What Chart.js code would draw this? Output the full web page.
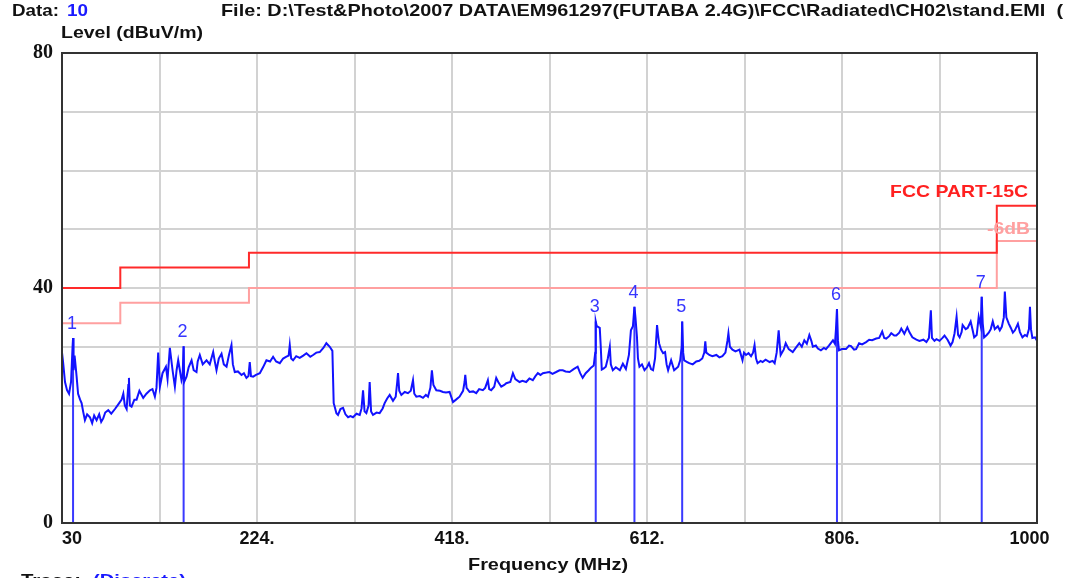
<!DOCTYPE html>
<html>
<head>
<meta charset="utf-8">
<script src="https://cdn.jsdelivr.net/npm/chart.js@4"></script>
<style>
html, body { margin: 0; padding: 0; background: #fff; }
</style>
</head>
<body>
<canvas id="myChart" width="1072" height="578"></canvas>
<script>
// measured trace (MHz / dBuV/m)
const traceFreq = [30, 31, 33, 35, 37, 39, 40.5, 41, 41.5, 42.5, 43, 44.5, 46, 48, 49.5, 51, 52.8, 55, 57.8, 60,
  62, 64.4, 67, 69, 71, 73, 76, 79, 82.7, 86, 89.3, 91, 92.5, 94.3, 96, 96.6, 97.5, 99.2, 102, 104.2,
  107, 110.8, 114, 117.5, 120, 122.4, 124, 125.7, 127.4, 130, 133.4, 135, 137.3, 140, 142.3, 144, 145.6, 148.9, 150, 151,
  151.5, 153.9, 156, 158.9, 161, 163.8, 165, 167.1, 170, 173.8, 177, 180.4, 182, 183.7, 186, 188.7, 191, 193.7, 196, 198.6,
  200, 201.9, 205, 208.6, 211, 213.5, 215.5, 216.8, 218, 220.2, 223, 226.8, 230, 233.4, 237, 240, 243, 246.7, 250, 253.3,
  255.5, 256.6, 258, 259.9, 263, 266.5, 270, 273.2, 277, 279.8, 283, 286.4, 290, 293, 296.4, 299, 300.3, 301.3, 303, 304.6,
  307, 309.6, 312, 314.6, 317, 319.5, 323, 326.2, 328, 329.5, 331, 332.8, 335, 336.1, 337.5, 339.4, 343, 346, 349, 351,
  353.5, 356, 359.3, 362, 363.5, 364.3, 365.5, 367.6, 371, 374.2, 377, 379.2, 380.5, 382.5, 386, 389.1, 392, 394.1, 396.5, 398,
  399.5, 402.4, 406, 409, 412, 415.6, 419, 422, 425.5, 429, 430.5, 431.2, 432.5, 435.5, 439, 442.1, 445, 448.7, 451, 453.7,
  455, 457, 460, 462, 464, 467, 470, 472, 476, 478.6, 481, 485.2, 488, 491.8, 495, 498.4, 501, 503.4, 506, 508.4,
  512, 515, 518, 521.6, 525, 528.2, 531, 535, 539, 543, 545.5, 548, 551, 554, 556, 559, 560.5, 561, 562, 565,
  566, 567, 569, 571, 573, 575, 576, 578, 581, 585, 588, 591, 594, 596, 598, 599.5, 600.5, 602, 603, 604.5,
  607, 609.5, 612, 614, 616, 618, 620, 622, 623, 624, 626, 628, 630, 631.5, 633, 636, 639, 641, 643, 645,
  646.5, 647, 648, 649, 652, 654, 657.5, 661, 664, 667, 669, 670, 671, 674, 677, 681, 684, 687, 690, 692,
  693, 694.5, 697, 700, 704, 707, 708.5, 710.5, 713, 715.5, 717.5, 719, 720.5, 722, 725, 727, 730, 734, 737, 739,
  741, 743, 744, 745, 748, 750, 753, 757, 760, 763.5, 766, 768.5, 771, 773.5, 775.5, 777, 780, 782, 785, 788,
  790, 793, 797, 799, 800, 801, 802, 803, 806, 810, 813, 815, 818, 820, 823, 826, 830, 833, 836, 840,
  843, 846, 848, 850, 853, 855, 858, 860, 863, 865, 868, 871, 873, 876, 880, 883, 887, 890, 892.5, 894.4,
  895.5, 898, 900, 903, 906, 908, 911, 914, 916, 918, 920, 921.5, 923, 925, 926, 929, 931, 934, 936, 937.5,
  940, 942, 944, 945, 946, 947.4, 950, 952, 954, 956, 958, 961, 963, 965, 967, 968, 969.5, 972, 974, 976,
  978, 981, 983, 985.5, 988, 990, 992, 993, 994, 995.4, 998, 1000];
const traceLevel = [29, 27.5, 24, 22.6, 22, 24, 30, 31.5, 26, 28.5, 27.7, 25, 22, 21, 20.4, 19, 17.5, 18.5, 18, 17,
  18.3, 17.5, 18.5, 17.2, 17.8, 18.8, 19.2, 18.6, 19.4, 20.2, 21, 22, 20, 19.4, 23.5, 24.7, 20, 19.8, 21, 21,
  22.5, 21.3, 22, 22.6, 22.8, 21.5, 23, 29, 23.2, 25.5, 26.6, 24.5, 29.8, 26, 23.2, 26, 27.7, 24.3, 25, 30.1,
  24, 24.9, 26.5, 27.7, 26, 25.7, 27.5, 28.6, 27, 27.7, 27, 29.1, 27.5, 26, 28, 28.8, 27, 26.6, 28.5, 30.3,
  27, 25.7, 25.8, 25.2, 25.5, 24.7, 25, 27.4, 25, 24.9, 25.2, 25.5, 26.5, 27.7, 27.5, 28.3, 27.5, 27.2, 28, 28.3,
  28.5, 30.3, 28, 27.7, 28.4, 28.1, 28.5, 28.9, 28.3, 28.6, 29, 29.1, 29.8, 30.6, 30, 29.3, 20.4, 19.8, 18.7, 18.4,
  19.4, 19.6, 18.5, 18, 18.2, 18, 18.6, 18.4, 19.5, 22.6, 19, 18.7, 20, 24, 19, 18.4, 18.8, 18.7, 19.5, 20.4,
  21.2, 21.8, 20.8, 21.5, 24, 25.5, 22.5, 21.8, 22.3, 22.1, 22.5, 24.3, 22, 21.5, 21.6, 21.3, 21.8, 21.5, 23, 26,
  23.5, 22.6, 22.5, 22.3, 22.2, 22.3, 20.6, 21, 21.5, 22.5, 24, 25.2, 23, 22.3, 22.4, 22.1, 22.8, 22.6, 23, 24.3,
  22.8, 22.6, 23.2, 24.7, 24, 23.2, 23.5, 23.8, 24, 25.5, 24.5, 24, 24.2, 24, 24.6, 24.3, 25, 25.5, 25.2, 25.5,
  25.6, 25.7, 25.4, 25.7, 26, 26, 25.8, 25.7, 26.2, 26.6, 25.5, 24.7, 25.5, 26, 26.4, 26.8, 29, 34.3, 33.5, 33.2,
  30, 26.1, 26.3, 26.6, 28, 30, 27, 26, 26.5, 26, 27.1, 26.2, 28.6, 32.8, 33.5, 36.8, 35, 31.7, 28, 26.6,
  27, 26, 26.5, 27.2, 26.2, 26, 28, 33.7, 32, 30.6, 29.5, 28.9, 29.1, 27, 26, 27.7, 26, 26.3, 26.6, 27.7,
  30, 34.3, 29, 27.7, 27.4, 27.2, 27, 27.5, 27.6, 28, 29, 30.9, 29, 28.6, 28.4, 28.6, 28.2, 28.4, 29, 31,
  32.3, 30, 29.5, 29.2, 29.5, 27.7, 29, 28.6, 28.9, 28.4, 29, 30.3, 28, 27.2, 27.6, 27.4, 27.8, 27.4, 27.6, 27.2,
  29, 32.8, 30.5, 28.6, 29.5, 30.6, 29.6, 29.1, 29.8, 30.6, 30, 31.1, 30.5, 32, 31, 30, 30.2, 29.7, 29.4, 29.8,
  29.6, 30.2, 31.1, 30.5, 33, 36.4, 31, 29.4, 29.6, 29.6, 30.2, 30.1, 29.5, 29.6, 30.6, 30.4, 30.8, 31.2, 31.1, 31.4,
  31.5, 32.6, 31.5, 31.4, 31.8, 32.3, 31.9, 31.9, 32.4, 33.1, 32.2, 33.3, 32.5, 31.6, 31.2, 31, 31.2, 30.8, 31.5, 36.2,
  31.5, 31, 31.3, 31, 31.5, 31.9, 31.2, 30.2, 30.8, 32.3, 35.1, 32, 31.6, 32.5, 33.7, 33, 33.2, 34.3, 32.8, 31.6,
  32, 35.1, 33.5, 38.5, 34, 31.6, 32, 32.4, 33, 34.3, 33, 33.5, 32.8, 33.4, 35, 39.4, 35, 33.9, 33.2, 32.4,
  32.8, 33.9, 32.5, 31.6, 32, 31.8, 33, 36.8, 33, 31.5, 31.6, 31];

// FCC Part 15C limit and -6dB margin
const limitFreq = [30, 88, 216, 960, 1000];
const limitLevel = [40, 43.5, 46, 54, 54];
const marginLevel = [34, 37.5, 40, 48, 48];

// peak markers
const markerFreq = [41, 151, 561, 599.5, 647, 801, 945];
const markerLevel = [31.5, 30.1, 34.3, 36.8, 34.3, 36.4, 38.5];
const markerLabels = ['1', '2', '3', '4', '5', '6', '7'];

// axis ticks
const xTicks = [30, 127, 224, 321, 418, 515, 612, 709, 806, 903, 1000];
const xTickLabels = ['    30', '', '224.', '', '418.', '', '612.', '', '806.', '', '1000   '];
const yTickLabels = { 0: '0', 40: '40', 80: '80' };

const SANS = '"Liberation Sans", Arial, sans-serif';

const pts = (xs, ys) => xs.map((x, i) => ({ x: x, y: ys[i] }));

const markerData = [];
markerFreq.forEach((f, i) => {
    markerData.push({ x: f, y: 0 }, { x: f, y: markerLevel[i] }, { x: f, y: null });
});

function fitText(ctx, text, x, y, w, font, color, align) {
    ctx.save();
    ctx.font = font;
    const m = ctx.measureText(text).width;
    const k = w / m;
    ctx.translate(align === 'right' ? x - w : (align === 'center' ? x - w / 2 : x), y);
    ctx.scale(k, 1);
    ctx.fillStyle = color;
    ctx.textAlign = 'left';
    ctx.textBaseline = 'middle';
    ctx.fillText(text, 0, 0);
    ctx.restore();
}

const decorations = {
    id: 'decorations',
    afterDatasetsDraw(chart) {
        const ctx = chart.ctx;
        const xs = chart.scales.x, ys = chart.scales.y;
        const a = chart.chartArea;

        // marker numbers
        ctx.save();
        ctx.font = '18px ' + SANS;
        ctx.fillStyle = '#3535ff';
        ctx.textAlign = 'center';
        ctx.textBaseline = 'middle';
        markerFreq.forEach((f, i) => {
            ctx.fillText(markerLabels[i], xs.getPixelForValue(f) - 1, ys.getPixelForValue(markerLevel[i]) - 14);
        });
        ctx.restore();

        // limit labels
        fitText(ctx, 'FCC PART-15C', a.right - 9, ys.getPixelForValue(54) - 13, 138, 'bold 17px ' + SANS, '#ff2020', 'right');
        fitText(ctx, '-6dB', a.right - 7, ys.getPixelForValue(48) - 12, 43, 'bold 17px ' + SANS, '#ffa0a0', 'right');

        // frame
        ctx.save();
        ctx.strokeStyle = '#333';
        ctx.lineWidth = 2;
        ctx.strokeRect(a.left, a.top, a.right - a.left, a.bottom - a.top);
        ctx.restore();

        // header / footer texts
        const f = 'bold 17px ' + SANS;
        fitText(ctx, 'Data:', 12, 11, 47, f, '#111');
        fitText(ctx, '10', 67, 11, 21, f, '#1a1aff');
        fitText(ctx, 'File: D:\\Test&Photo\\2007 DATA\\EM961297(FUTABA 2.4G)\\FCC\\Radiated\\CH02\\stand.EMI  (', 221, 11, 842, f, '#111');
        fitText(ctx, 'Level (dBuV/m)', 61, 33, 142, f, '#111');
        fitText(ctx, 'Frequency (MHz)', 548, 565, 160, f, '#111', 'center');
        fitText(ctx, 'Trace:', 21, 581, 60, f, '#111');
        fitText(ctx, '(Discrete)', 93, 581, 93, f, '#1a1aff');
    }
};

const ctx = document.getElementById('myChart').getContext('2d');

const config = {
    type: 'line',
    data: {
        datasets: [{
            label: 'Trace',
            data: pts(traceFreq, traceLevel),
            borderColor: '#1212ff',
            borderWidth: 2,
            pointRadius: 0,
            tension: 0,
            order: 1
        }, {
            label: 'Markers',
            data: markerData,
            borderColor: '#3a3aff',
            borderWidth: 2,
            pointRadius: 0,
            spanGaps: false,
            order: 2
        }, {
            label: 'FCC PART-15C',
            data: pts(limitFreq, limitLevel),
            borderColor: '#ff2a2a',
            borderWidth: 2,
            pointRadius: 0,
            stepped: 'before',
            order: 3
        }, {
            label: '-6dB',
            data: pts(limitFreq, marginLevel),
            borderColor: '#ffa0a0',
            borderWidth: 2,
            pointRadius: 0,
            stepped: 'before',
            order: 4
        }]
    },
    options: {
        responsive: false,
        animation: false,
        devicePixelRatio: 1,
        layout: { padding: { top: 53, right: 35, left: 0, bottom: 0 } },
        scales: {
            x: {
                type: 'linear',
                min: 30,
                max: 1000,
                afterFit: (s) => { s.height = 55; },
                afterBuildTicks: (s) => { s.ticks = xTicks.map(v => ({ value: v })); },
                grid: { color: '#d2d2d2', lineWidth: 2, drawTicks: false },
                border: { display: true, color: '#333', width: 2 },
                ticks: {
                    color: '#111',
                    padding: 5,
                    maxRotation: 0,
                    autoSkip: false,
                    font: { family: SANS, size: 18, weight: 'bold' },
                    callback: (v, i) => xTickLabels[i]
                }
            },
            y: {
                min: 0,
                max: 80,
                afterFit: (s) => { s.width = 62; },
                grid: { color: '#d2d2d2', lineWidth: 2, drawTicks: false },
                border: { display: true, color: '#333', width: 2 },
                ticks: {
                    stepSize: 10,
                    color: '#111',
                    padding: 9,
                    font: { family: '"Liberation Serif", serif', size: 20, weight: 'bold' },
                    callback: (v) => (yTickLabels[v] !== undefined ? yTickLabels[v] : '')
                }
            }
        },
        plugins: {
            legend: { display: false },
            tooltip: { enabled: false }
        }
    },
    plugins: [decorations]
};

let myChart = new Chart(ctx, config);
</script>
</body>
</html>
